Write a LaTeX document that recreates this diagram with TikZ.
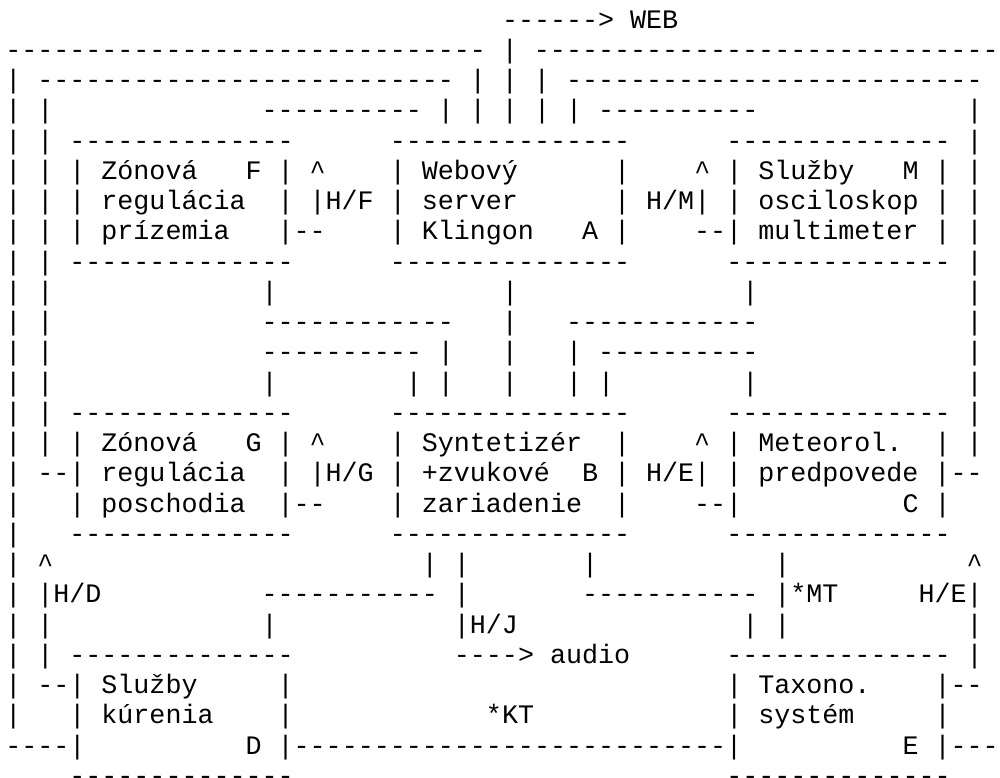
\documentclass[tikz,border=0pt]{standalone}
\usepackage{fontspec}
\setmonofont{Liberation Mono}
% the sketch, one macro per line of text, spaces kept
\begingroup
\catcode`\ =\active\catcode`\^=12%
\gdef {\ }%
\gdef\rowi{                               ------> WEB}%
\gdef\rowii{------------------------------ | -----------------------------}%
\gdef\rowiii{| -------------------------- | | | --------------------------}%
\gdef\rowiv{| |             ---------- | | | | | ----------             |}%
\gdef\rowv{| | --------------      ---------------      -------------- |}%
\gdef\rowvi{| | | Zónová   F | ^    | Webový      |    ^ | Služby   M | |}%
\gdef\rowvii{| | | regulácia  | |H/F | server      | H/M| | osciloskop | |}%
\gdef\rowviii{| | | prízemia   |--    | Klingon   A |    --| multimeter | |}%
\global\let\rowix\rowv%
\gdef\rowx{| |             |              |              |             |}%
\gdef\rowxi{| |             ------------   |   ------------             |}%
\gdef\rowxii{| |             ---------- |   |   | ----------             |}%
\gdef\rowxiii{| |             |        | |   |   | |        |             |}%
\global\let\rowxiv\rowv%
\gdef\rowxv{| | | Zónová   G | ^    | Syntetizér  |    ^ | Meteorol.  | |}%
\gdef\rowxvi{| --| regulácia  | |H/G | +zvukové  B | H/E| | predpovede |--}%
\gdef\rowxvii{|   | poschodia  |--    | zariadenie  |    --|          C |}%
\gdef\rowxviii{|   --------------      ---------------      --------------}%
\gdef\rowxix{| ^                       | |       |           |           ^}%
\gdef\rowxx{| |H/D          ----------- |       ----------- |*MT     H/E|}%
\gdef\rowxxi{| |             |           |H/J              | |           |}%
\gdef\rowxxii{| | --------------          ----> audio      -------------- |}%
\gdef\rowxxiii{| --| Služby     |                           | Taxono.    |--}%
\gdef\rowxxiv{|   | kúrenia    |            *KT            | systém     |}%
\gdef\rowxxv{----|          D |---------------------------|          E |---}%
\gdef\rowxxvi{    --------------                           --------------}%
\endgroup

\begin{document}
\begin{tikzpicture}[x=1pt,y=1pt,
  asciirow/.style={anchor=base west,inner sep=0pt,outer sep=0pt,
    font=\ttfamily\fontsize{26.7pt}{30.25pt}\selectfont}]
  \useasboundingbox (0,0) rectangle (1000,-778);
  \foreach \k in {1,...,26}
    \node[asciirow] (r\k) at (5.3,{-28.2-30.25*(\k-1)}) {\csname row\romannumeral\k\endcsname};
\end{tikzpicture}
\end{document}
